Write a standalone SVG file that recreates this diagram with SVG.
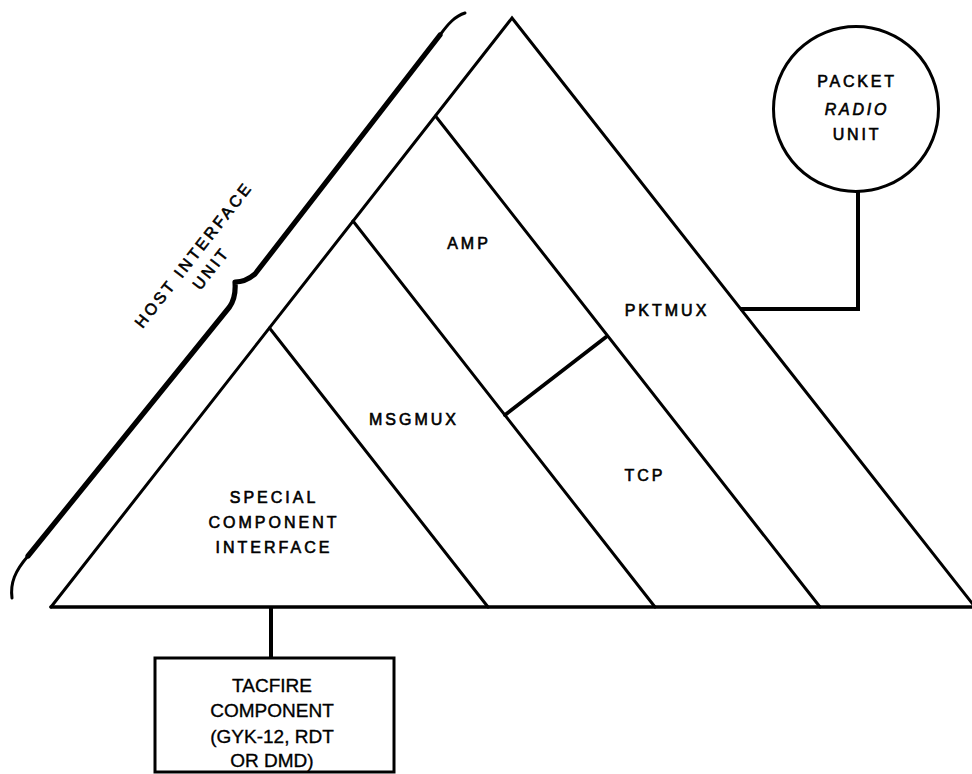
<svg xmlns="http://www.w3.org/2000/svg" width="972" height="774" viewBox="0 0 972 774">
  <style>
    .edge { fill: none; stroke: #000; stroke-width: 3; stroke-linecap: round; stroke-linejoin: miter; }
    .link { fill: none; stroke: #000; stroke-width: 4; stroke-linecap: square; stroke-linejoin: miter; }
    .brace { fill: none; stroke: #000; stroke-width: 5.2; stroke-linecap: round; stroke-linejoin: round; }
    .brace-tip { fill: none; stroke: #000; stroke-width: 3; stroke-linecap: round; }
    .lbl { font-family: "Liberation Sans", Arial, sans-serif; font-size: 16px; letter-spacing: 3px; fill: #000; stroke: #000; stroke-width: 0.6; text-anchor: middle; }
    .box-lbl { font-family: "Liberation Sans", Arial, sans-serif; font-size: 19px; fill: #000; stroke: #000; stroke-width: 0.35; text-anchor: middle; }
  </style>
  <rect width="972" height="774" fill="#fff"/>

  <!-- protocol stack: outer triangle and layer boundaries -->
  <g id="stack">
    <path class="edge" d="M 51,607 L 512,18 L 975,607" />
    <line class="edge" x1="51" y1="607" x2="972" y2="607" style="stroke-width:3.6"/>
    <line class="edge" x1="269.5" y1="328" x2="488" y2="607" />
    <line class="edge" x1="353" y1="221" x2="655" y2="607" />
    <line class="edge" x1="435.5" y1="116" x2="820" y2="607" />
    <line class="edge" x1="505" y1="415" x2="606" y2="337" style="stroke-width:3.8"/>
  </g>

  <!-- host interface unit brace along the left side -->
  <g id="host-interface-unit">
    <path class="brace" d="M 28,556 L 229.5,307 C 233,302 236,295 235,282 C 241,282 248,280 255,274 L 440,35" />
    <path class="brace-tip" d="M 12,598 C 10,583 15,571 28,556" />
    <path class="brace-tip" d="M 440,35 C 448,24 455,16 465,13" />
    <g transform="translate(198,258) rotate(-52)">
      <text class="lbl" x="0" y="0">HOST INTERFACE</text>
      <text class="lbl" x="0" y="22">UNIT</text>
    </g>
  </g>

  <g id="special-component-interface">
    <text class="lbl" x="274" y="503">SPECIAL</text>
    <text class="lbl" x="274" y="528">COMPONENT</text>
    <text class="lbl" x="274" y="553">INTERFACE</text>
  </g>

  <g id="msgmux">
    <text class="lbl" x="414" y="425">MSGMUX</text>
  </g>

  <g id="amp">
    <text class="lbl" x="469" y="249">AMP</text>
  </g>

  <g id="tcp">
    <text class="lbl" x="645" y="481">TCP</text>
  </g>

  <g id="pktmux">
    <text class="lbl" x="667" y="316">PKTMUX</text>
  </g>

  <g id="packet-radio-unit">
    <circle cx="856" cy="109" r="82.5" fill="#fff" stroke="#000" stroke-width="3"/>
    <text class="lbl" x="857" y="87" style="letter-spacing:2.8px">PACKET</text>
    <text class="lbl" x="857" y="115" style="letter-spacing:2.8px;font-style:italic">RADIO</text>
    <text class="lbl" x="857" y="140" style="letter-spacing:2.8px">UNIT</text>
  </g>

  <g id="tacfire-component">
    <rect x="155" y="658" width="239" height="114" fill="#fff" stroke="#000" stroke-width="3"/>
    <text class="box-lbl" x="272" y="692">TACFIRE</text>
    <text class="box-lbl" x="272" y="717">COMPONENT</text>
    <text class="box-lbl" x="272" y="743">(GYK-12, RDT</text>
    <text class="box-lbl" x="272" y="767">OR DMD)</text>
  </g>

  <!-- attachments to the stack -->
  <g id="connectors">
    <polyline class="link" points="858,192 858,309 742,309" />
    <line class="link" x1="271" y1="608" x2="271" y2="657" style="stroke-linecap:butt"/>
  </g>
</svg>
